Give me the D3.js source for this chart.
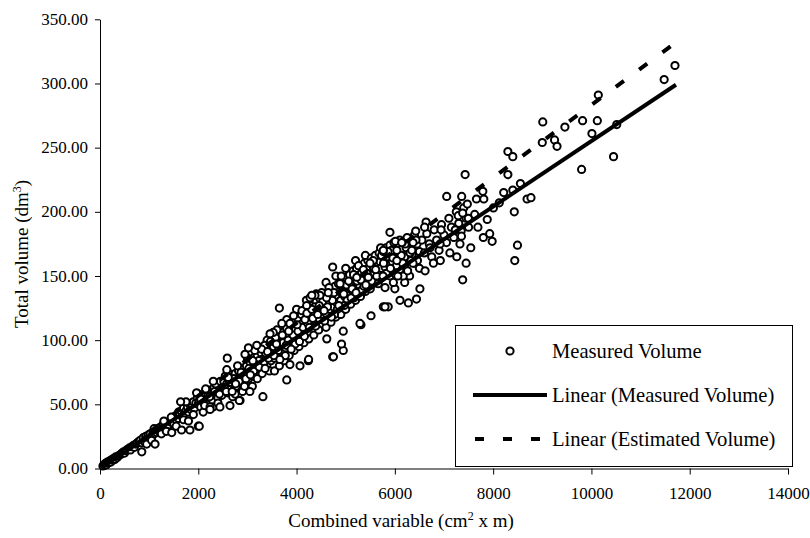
<!DOCTYPE html>
<html>
<head>
<meta charset="utf-8">
<script src="https://cdn.jsdelivr.net/npm/d3@7"></script>
<style>
  body { margin: 0; background: #fff; }
  text { font-family: "Liberation Serif", "Times New Roman", serif; fill: #000; }
</style>
</head>
<body>
<script>
// tick values
const xTicks = [0, 2000, 4000, 6000, 8000, 10000, 12000, 14000];
const yTicks = [0, 50, 100, 150, 200, 250, 300, 350];

// measured volume (dm3) against combined variable (cm2 x m)
const measuredPoints = [
  // near origin
  [60,2],[80,3],[100,2.5],[110,4],[130,3],[150,5],[170,4.5],[200,6],[220,5],[240,7],[260,6.5],[280,8],[300,7],[320,9],
  [350,8.5],[380,10],[420,11],[450,12],[480,13],[500,12],[530,14],[560,15],[600,16],[620,14.5],[650,17],[680,18],
  [700,16.5],[730,19],[760,20],[790,21],
  // 800 - 1600
  [820,22],[850,20],[880,24],[900,21],[930,25],[950,23],[980,26],[1000,24],[1020,27],[1050,25],[1080,28],[1100,27],
  [1120,30],[1150,28],[1180,31],[1200,29],[1220,32],[1250,31],[1280,34],[1300,32],[1320,35],[1350,33],[1380,36],
  [1400,34],[1420,37],[1450,36],[1480,38],[1500,35],[1520,40],[1550,38],[1580,41],[1600,39],
  [950,19],[1050,22],[1250,27],[1350,29],[1550,33],[1100,31],[1300,37],[1450,40],[1600,44],
  // 1600 - 2500
  [1620,42],[1650,45],[1680,40],[1700,47],[1720,43],[1750,45],[1780,48],[1800,44],[1820,50],[1850,46],[1880,49],
  [1900,52],[1920,47],[1950,51],[1980,55],[2000,50],[2020,53],[2050,48],[2080,56],[2100,52],[2120,58],[2150,54],
  [2180,50],[2200,57],[2220,61],[2250,55],[2280,59],[2300,52],[2320,63],[2350,58],[2380,61],[2400,55],[2420,65],
  [2450,60],[2480,57],[2500,64],
  [1700,38],[1800,37],[1900,42],[2100,44],[2300,48],[2400,51],[1750,52],[2000,58],[2150,62],[2350,66],[2450,68],
  // 2500 - 3500
  [2520,68],[2550,62],[2580,66],[2600,59],[2620,70],[2650,64],[2680,72],[2700,67],[2720,61],[2750,74],[2780,69],
  [2800,65],[2820,76],[2850,71],[2880,63],[2900,78],[2920,73],[2950,68],[2980,80],[3000,75],[3020,70],[3050,83],
  [3080,77],[3100,72],[3120,86],[3150,80],[3180,74],[3200,88],[3220,82],[3250,77],[3280,90],[3300,85],[3320,79],
  [3350,92],[3380,87],[3400,81],[3420,94],[3450,89],[3480,84],[3500,97],
  [2600,75],[2700,56],[2800,80],[2900,60],[3000,86],[3100,64],[3200,70],[3300,74],[3400,100],[3450,76],[2550,72],
  [2750,58],[2950,89],[3150,92],[3350,96],
  // 3500 - 4500
  [3520,91],[3550,86],[3580,100],[3600,94],[3620,88],[3650,103],[3680,97],[3700,91],[3720,106],[3750,100],[3780,94],
  [3800,109],[3820,103],[3850,97],[3880,112],[3900,106],[3920,99],[3950,114],[3980,108],[4000,102],[4020,117],
  [4050,111],[4080,104],[4100,120],[4120,113],[4150,107],[4180,122],[4200,116],[4220,109],[4250,125],[4280,119],
  [4300,112],[4320,127],[4350,121],[4380,114],[4400,130],[4420,124],[4450,117],[4480,132],[4500,126],
  [3550,76],[3650,80],[3750,84],[3850,88],[3950,92],[4050,95],[4150,98],[4250,101],[4350,104],[4450,108],
  [3600,108],[3800,116],[4000,124],[4200,131],[4400,136],
  // 4500 - 5500
  [4520,120],[4550,134],[4580,128],[4600,121],[4620,137],[4650,130],[4680,124],[4700,139],[4720,133],[4750,126],
  [4780,142],[4800,135],[4820,129],[4850,144],[4880,138],[4900,131],[4920,147],[4950,140],[4980,134],[5000,149],
  [5020,143],[5050,136],[5080,151],[5100,145],[5120,139],[5150,154],[5180,147],[5200,141],[5220,156],[5250,150],
  [5280,143],[5300,158],[5320,152],[5350,146],[5380,160],[5400,154],[5420,148],[5450,162],[5480,157],[5500,150],
  [4600,110],[4700,114],[4800,118],[4900,120],[5000,124],[5100,128],[5200,131],[5300,134],[5400,138],[5500,140],
  [4600,145],[4800,150],[5000,156],[5200,162],[5400,166],
  // 5500 - 6500
  [5520,164],[5550,158],[5580,152],[5600,166],[5620,160],[5650,154],[5680,168],[5700,161],[5720,156],[5750,170],
  [5780,163],[5800,157],[5820,172],[5850,165],[5880,159],[5900,174],[5920,167],[5950,161],[5980,176],[6000,169],
  [6050,163],[6100,178],[6150,171],[6200,165],[6250,180],[6300,173],[6350,167],[6400,182],[6450,175],[6500,169],
  [5600,145],[5700,148],[5900,150],[6000,152],[6100,155],[6200,158],[6300,150],[6400,160],[6500,156],[5800,141],
  [6000,140],[6200,145],
  // 6500 - 7500
  [6550,178],[6600,168],[6650,183],[6700,175],[6750,165],[6800,186],[6850,178],[6900,170],[6950,190],[7000,182],
  [7050,176],[7100,195],[7150,188],[7200,180],[7250,200],[7300,191],[7350,185],[7400,203],[7450,195],[7500,188],
  // extra fill in the dense band
  [2050,54],[2130,49],[2230,56],[2330,60],[2430,58],[2530,63],[2630,67],[2730,70],[2830,68],[2930,74],[3030,78],
  [3130,76],[3230,84],[3330,82],[3430,86],[3530,95],[3630,92],[3730,98],[3830,100],[3930,104],[4030,107],[4130,110],
  [4230,113],[4330,117],[4430,120],[4530,130],[4630,126],[4730,131],[4830,124],[4930,138],[5030,131],[5130,140],
  [5230,146],[5330,139],[5430,152],[5530,146],[5630,150],[5730,166],[5830,152],[5930,170],[6030,158],[6130,166],
  [6230,172],[6330,162],[6430,178],
  [2570,60],[2770,64],[2970,70],[3170,81],[3370,90],[3570,102],[3770,88],[3970,97],[4170,116],[4370,126],[4570,115],
  [4770,120],[4970,127],[5170,133],[5370,142],[5570,156],[5770,160],[5970,145],[6170,150],[6370,176],
  [2610,71],[2690,60],[2760,66],[2870,75],[2940,64],[3060,73],[3110,84],[3240,79],[3290,93],[3360,78],[3410,91],
  [3470,99],[3540,88],[3590,97],[3660,85],[3710,104],[3790,96],[3840,107],[3890,93],[3940,119],[4010,112],[4060,99],
  [4110,123],[4160,103],[4210,121],[4260,110],[4310,124],[4390,111],[4460,127],[4510,137],[4560,123],[4610,133],
  [4660,141],[4710,118],[4760,137],[4860,127],[4910,150],[4960,136],[5060,146],[5110,133],[5160,151],[5210,137],
  [5260,158],[5310,147],[5360,155],[5410,143],[5460,149],[5560,162],[5610,155],[5660,144],[5710,172],[5760,150],
  [5860,169],[5910,156],[5960,164],[6010,177],[6060,150],[6160,160],[6210,175],[6260,154],[6310,168],[6460,162],
  // spread and outliers
  [4735,157],[6440,132],[6275,129],[6105,131],[5865,126],[5765,126],[6510,140],[4950,92],[4915,97],[4735,87],
  [4240,84],[5310,112],[5515,119],[3650,125],[2590,86],[3315,56],[3800,69],[4750,87],[4245,85],[2000,33],[1830,30],
  [1660,30],[1460,28],[1120,19],[850,13],[1640,52],[1965,59],[2580,77],[3020,94],[3190,96],[3525,106],[4275,133],
  [4475,135],[4645,137],[6150,176],[6040,170],[5765,169],[5495,160],[5225,149],[4885,144],[4375,135],[5800,126],
  [5290,113],[4950,107],[4615,101],[3460,105],[3700,113],[3865,113],[4205,127],[4310,135],[2305,68],[3865,81],
  [4070,80],[2440,48],[2240,48],[2850,53],[3050,60],[2835,53],[2645,49],[2240,46],[2020,33],
  // upper range
  [11700,314],[11480,303],[10140,291],[9010,270],[9820,271],[10120,271],[9460,266],[10010,261],[9250,256],[9300,251],
  [9000,254],[10515,268],[10450,243],[9800,233],[8300,247],[8400,243],[8300,229],[7430,229],[7055,212],[7360,212],
  [7475,206],[7790,216],[7660,210],[7810,210],[8215,215],[8400,217],[8555,222],[8690,210],[8770,211],[8430,200],
  [8125,207],[8005,203],[7880,194],[7690,188],[7930,183],[7980,177],[7800,180],[8495,174],[8440,162],[7545,172],
  [7450,160],[7260,165],[7120,168],[7380,147],[5900,184],[6635,192],[6605,188],[6425,185],[6940,186],[7290,197],
  [7380,199],[7495,195],[7625,198],[7355,181],[7230,186],[7325,175],[6920,175],[6715,172],[6925,162],[6785,160],
  [6615,154],[6140,176],[6345,170],[5765,170],[6040,162],[6370,160]
];

// linear trend lines (end points)
const trendX = [60, 11720];
const measuredFit = [1.5, 299];
const estimatedFit = [1.7, 332];

const legendLabels = ["Measured Volume", "Linear (Measured Volume)", "Linear (Estimated Volume)"];

const width = 810, height = 538;

const svg = d3.select("body").append("svg")
  .attr("width", width)
  .attr("height", height);

const x = d3.scaleLinear().domain([0, 14000]).range([100, 788]);
const y = d3.scaleLinear().domain([0, 350]).range([468.5, 19.3]);

// axes
const xAxis = svg.append("g")
  .attr("transform", "translate(0," + y(0) + ")")
  .call(d3.axisBottom(x).tickValues(xTicks).tickFormat(d3.format("d"))
    .tickSize(6).tickSizeOuter(0));
xAxis.selectAll("text")
  .attr("y", 30.5).attr("dy", 0)
  .style("font-family", "'Liberation Serif', serif")
  .style("font-size", "17px");

const yAxis = svg.append("g")
  .attr("transform", "translate(" + x(0) + ",0)")
  .call(d3.axisLeft(y).tickValues(yTicks).tickFormat(d3.format(".2f"))
    .tickSize(5).tickSizeOuter(0).tickPadding(7));
yAxis.selectAll("text")
  .attr("dy", "0.3em")
  .style("font-family", "'Liberation Serif', serif")
  .style("font-size", "17px");

svg.selectAll(".domain, .tick line").attr("stroke", "#000");

// axis titles
const xTitle = svg.append("text")
  .attr("x", 401).attr("y", 527)
  .attr("text-anchor", "middle")
  .style("font-size", "19px");
xTitle.append("tspan").text("Combined variable (cm");
xTitle.append("tspan").attr("baseline-shift", "super").style("font-size", "12px").text("2");
xTitle.append("tspan").text(" x m)");

const yTitle = svg.append("text")
  .attr("transform", "translate(28,254) rotate(-90)")
  .attr("text-anchor", "middle")
  .style("font-size", "19px");
yTitle.append("tspan").text("Total volume (dm");
yTitle.append("tspan").attr("baseline-shift", "super").style("font-size", "12px").text("3");
yTitle.append("tspan").text(")");

// points
svg.append("g")
  .selectAll("circle")
  .data(measuredPoints)
  .enter()
  .append("circle")
  .attr("cx", d => x(d[0]))
  .attr("cy", d => y(d[1]))
  .attr("r", 3.6)
  .attr("fill", "#fff")
  .attr("stroke", "#000")
  .attr("stroke-width", 2);

// trend lines
const line = d3.line().x(d => x(d[0])).y(d => y(d[1]));
svg.append("path")
  .datum(trendX.map((v, i) => [v, measuredFit[i]]))
  .attr("d", line)
  .attr("fill", "none")
  .attr("stroke", "#000")
  .attr("stroke-width", 4);
svg.append("path")
  .datum(trendX.map((v, i) => [v, estimatedFit[i]]))
  .attr("d", line)
  .attr("fill", "none")
  .attr("stroke", "#000")
  .attr("stroke-width", 4)
  .attr("stroke-dasharray", "10,19");

// legend
const legend = svg.append("g").attr("class", "legend");
legend.append("rect")
  .attr("x", 455.5).attr("y", 325.5)
  .attr("width", 337).attr("height", 141)
  .attr("fill", "#fff")
  .attr("stroke", "#000")
  .attr("stroke-width", 1);

const legRows = [351, 395, 439];
legend.append("circle")
  .attr("cx", 510).attr("cy", legRows[0])
  .attr("r", 3.6).attr("fill", "#fff")
  .attr("stroke", "#000").attr("stroke-width", 2);
legend.append("line")
  .attr("x1", 473).attr("x2", 547)
  .attr("y1", legRows[1]).attr("y2", legRows[1])
  .attr("stroke", "#000").attr("stroke-width", 4);
legend.append("line")
  .attr("x1", 475).attr("x2", 547)
  .attr("y1", legRows[2]).attr("y2", legRows[2])
  .attr("stroke", "#000").attr("stroke-width", 4)
  .attr("stroke-dasharray", "9,19");

legend.selectAll("text.leg")
  .data(legendLabels)
  .enter()
  .append("text")
  .attr("class", "leg")
  .attr("x", 552)
  .attr("y", (d, i) => legRows[i] + 7)
  .style("font-size", "20.6px")
  .text(d => d);
</script>
</body>
</html>
